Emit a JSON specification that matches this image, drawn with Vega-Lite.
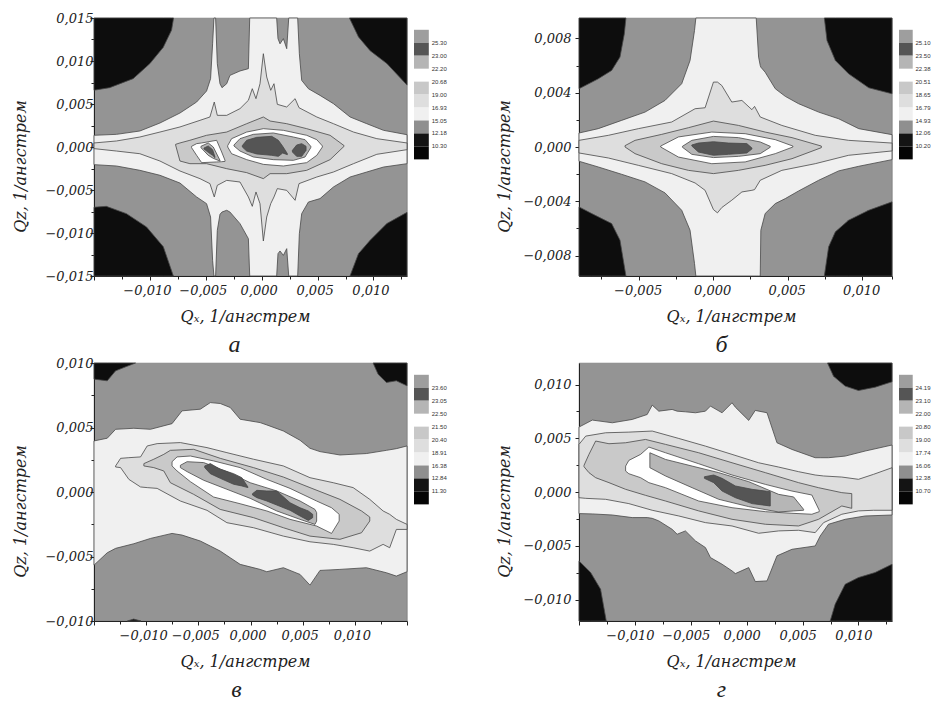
{"$schema":"https://vega.github.io/schema/vega-lite/v6.json","background":"white","padding":{"left":11,"top":11,"right":0,"bottom":6},
"config":{"view":{"fill":"#949494","stroke":"#777777","strokeWidth":0.7},"axis":{"labelFont":"DejaVu Serif","titleFont":"DejaVu Serif","labelFontStyle":"italic","titleFontStyle":"italic","labelFontWeight":"normal","titleFontWeight":"normal","labelFontSize":13,"titleFontSize":16,"labelColor":"#222222","titleColor":"#222222","domainColor":"#222222","tickColor":"#222222","grid":false,"labelOverlap":false,"labelFlush":false,"labelBound":false,"labelPadding":4,"titleBaseline":"middle"},"title":{"font":"Liberation Serif","fontStyle":"italic","fontWeight":"normal","fontSize":24,"color":"#222222"},"concat":{"spacing":7}},
"datasets":{
"legendBlocks":[{"slot":0,"end":1,"tone":"t1"},{"slot":1,"end":2,"tone":"t2"},{"slot":2,"end":3,"tone":"t3"},{"slot":4,"end":5,"tone":"t4"},{"slot":5,"end":6,"tone":"t5"},{"slot":6,"end":7,"tone":"t6"},{"slot":7,"end":8,"tone":"t7"},{"slot":8,"end":9,"tone":"t8"},{"slot":9,"end":10,"tone":"t9"}],
"a":[
{"r":"a1","z":1,"x":-0.015,"hi":0.015,"lo":0.0066},{"r":"a1","z":1,"x":-0.0136,"hi":0.015,"lo":0.0069},{"r":"a1","z":1,"x":-0.0115,"hi":0.015,"lo":0.00795},{"r":"a1","z":1,"x":-0.01,"hi":0.015,"lo":0.0097},{"r":"a1","z":1,"x":-0.0088,"hi":0.015,"lo":0.0116},{"r":"a1","z":1,"x":-0.00806,"hi":0.015,"lo":0.0136},{"r":"a1","z":1,"x":-0.00788,"hi":0.015,"lo":0.015},
{"r":"a2","z":1,"x":0.00785,"hi":0.015,"lo":0.015},{"r":"a2","z":1,"x":0.00866,"hi":0.015,"lo":0.0128},{"r":"a2","z":1,"x":0.0097,"hi":0.015,"lo":0.0112},{"r":"a2","z":1,"x":0.0112,"hi":0.015,"lo":0.0097},{"r":"a2","z":1,"x":0.013,"hi":0.015,"lo":0.0072},
{"r":"a3","z":1,"x":-0.015,"hi":-0.007,"lo":-0.015},{"r":"a3","z":1,"x":-0.0139,"hi":-0.0069,"lo":-0.015},{"r":"a3","z":1,"x":-0.0121,"hi":-0.00775,"lo":-0.015},{"r":"a3","z":1,"x":-0.0103,"hi":-0.0093,"lo":-0.015},{"r":"a3","z":1,"x":-0.0088,"hi":-0.0116,"lo":-0.015},{"r":"a3","z":1,"x":-0.0079,"hi":-0.015,"lo":-0.015},
{"r":"a4","z":1,"x":0.0079,"hi":-0.015,"lo":-0.015},{"r":"a4","z":1,"x":0.00866,"hi":-0.0124,"lo":-0.015},{"r":"a4","z":1,"x":0.0097,"hi":-0.01085,"lo":-0.015},{"r":"a4","z":1,"x":0.0112,"hi":-0.0089,"lo":-0.015},{"r":"a4","z":1,"x":0.013,"hi":-0.0076,"lo":-0.015},
{"r":"a5","z":2,"x":-0.015,"hi":0.00136,"lo":-0.00205},{"r":"a5","z":2,"x":-0.01299,"hi":0.00147,"lo":-0.00221},{"r":"a5","z":2,"x":-0.0109,"hi":0.00186,"lo":-0.00271},{"r":"a5","z":2,"x":-0.0091,"hi":0.00279,"lo":-0.00329},{"r":"a5","z":2,"x":-0.00731,"hi":0.00395,"lo":-0.00419},{"r":"a5","z":2,"x":-0.00582,"hi":0.00523,"lo":-0.00581},{"r":"a5","z":2,"x":-0.00493,"hi":0.00651,"lo":-0.00659},{"r":"a5","z":2,"x":-0.00457,"hi":0.00795,"lo":-0.00814},{"r":"a5","z":2,"x":-0.00439,"hi":0.012,"lo":-0.01318},{"r":"a5","z":2,"x":-0.00427,"hi":0.015,"lo":-0.015},{"r":"a5","z":2,"x":-0.00412,"hi":0.015,"lo":-0.015},{"r":"a5","z":2,"x":-0.00397,"hi":0.00969,"lo":-0.00969},{"r":"a5","z":2,"x":-0.00373,"hi":0.00736,"lo":-0.00783},{"r":"a5","z":2,"x":-0.00355,"hi":0.0069,"lo":-0.00756},{"r":"a5","z":2,"x":-0.00313,"hi":0.00736,"lo":-0.00736},{"r":"a5","z":2,"x":-0.00284,"hi":0.00833,"lo":-0.00756},{"r":"a5","z":2,"x":-0.00194,"hi":0.00884,"lo":-0.00891},{"r":"a5","z":2,"x":-0.00119,"hi":0.00911,"lo":-0.01066},{"r":"a5","z":2,"x":-0.00107,"hi":0.015,"lo":-0.015},{"r":"a5","z":2,"x":0.00134,"hi":0.015,"lo":-0.015},{"r":"a5","z":2,"x":0.00146,"hi":0.0126,"lo":-0.0124},{"r":"a5","z":2,"x":0.00164,"hi":0.012,"lo":-0.01209},{"r":"a5","z":2,"x":0.00194,"hi":0.0126,"lo":-0.0126},{"r":"a5","z":2,"x":0.00224,"hi":0.01143,"lo":-0.01182},{"r":"a5","z":2,"x":0.00242,"hi":0.015,"lo":-0.015},{"r":"a5","z":2,"x":0.00322,"hi":0.015,"lo":-0.015},{"r":"a5","z":2,"x":0.00337,"hi":0.01085,"lo":-0.01008},{"r":"a5","z":2,"x":0.00358,"hi":0.00775,"lo":-0.00775},{"r":"a5","z":2,"x":0.00418,"hi":0.00678,"lo":-0.0064},{"r":"a5","z":2,"x":0.00522,"hi":0.006,"lo":-0.006},{"r":"a5","z":2,"x":0.00642,"hi":0.00504,"lo":-0.00465},{"r":"a5","z":2,"x":0.00791,"hi":0.00349,"lo":-0.00349},{"r":"a5","z":2,"x":0.0094,"hi":0.00271,"lo":-0.00291},{"r":"a5","z":2,"x":0.0109,"hi":0.00194,"lo":-0.00233},{"r":"a5","z":2,"x":0.013,"hi":0.00143,"lo":-0.00194},
{"r":"a6","z":3,"x":-0.015,"hi":0.00047,"lo":-0.00019},{"r":"a6","z":3,"x":-0.01299,"hi":0.0007,"lo":-0.00047},{"r":"a6","z":3,"x":-0.0109,"hi":0.00116,"lo":-0.00078},{"r":"a6","z":3,"x":-0.0091,"hi":0.00174,"lo":-0.00163},{"r":"a6","z":3,"x":-0.00731,"hi":0.00233,"lo":-0.00279},{"r":"a6","z":3,"x":-0.00552,"hi":0.0031,"lo":-0.00368},{"r":"a6","z":3,"x":-0.00463,"hi":0.00349,"lo":-0.00426},{"r":"a6","z":3,"x":-0.00424,"hi":0.00523,"lo":-0.00581},{"r":"a6","z":3,"x":-0.00397,"hi":0.00368,"lo":-0.00446},{"r":"a6","z":3,"x":-0.00313,"hi":0.00368,"lo":-0.00388},{"r":"a6","z":3,"x":-0.00194,"hi":0.00446,"lo":-0.00407},{"r":"a6","z":3,"x":-0.00119,"hi":0.00543,"lo":-0.00581},{"r":"a6","z":3,"x":-0.00084,"hi":0.00678,"lo":-0.0069},{"r":"a6","z":3,"x":-0.00051,"hi":0.00562,"lo":-0.00523},{"r":"a6","z":3,"x":-0.00015,"hi":0.00736,"lo":-0.00659},{"r":"a6","z":3,"x":0.00015,"hi":0.01085,"lo":-0.01093},{"r":"a6","z":3,"x":0.00045,"hi":0.00814,"lo":-0.00814},{"r":"a6","z":3,"x":0.00081,"hi":0.00659,"lo":-0.00659},{"r":"a6","z":3,"x":0.0011,"hi":0.00736,"lo":-0.00581},{"r":"a6","z":3,"x":0.0014,"hi":0.00496,"lo":-0.00484},{"r":"a6","z":3,"x":0.00224,"hi":0.00465,"lo":-0.00504},{"r":"a6","z":3,"x":0.00299,"hi":0.00562,"lo":-0.0062},{"r":"a6","z":3,"x":0.00334,"hi":0.00457,"lo":-0.00426},{"r":"a6","z":3,"x":0.00493,"hi":0.00349,"lo":-0.00349},{"r":"a6","z":3,"x":0.00642,"hi":0.00271,"lo":-0.00291},{"r":"a6","z":3,"x":0.00821,"hi":0.00174,"lo":-0.00194},{"r":"a6","z":3,"x":0.0103,"hi":0.00097,"lo":-0.00085},{"r":"a6","z":3,"x":0.013,"hi":0.00047,"lo":-0.00031},
{"r":"a7","z":4,"x":-0.0077,"hi":0.00031,"lo":0.00023},{"r":"a7","z":4,"x":-0.00731,"hi":0.00047,"lo":-0.00163},{"r":"a7","z":4,"x":-0.00642,"hi":0.00078,"lo":-0.00194},{"r":"a7","z":4,"x":-0.00493,"hi":0.00136,"lo":-0.00194},{"r":"a7","z":4,"x":-0.00313,"hi":0.00174,"lo":-0.00252},{"r":"a7","z":4,"x":-0.00134,"hi":0.00271,"lo":-0.00298},{"r":"a7","z":4,"x":0.00015,"hi":0.00349,"lo":-0.00368},{"r":"a7","z":4,"x":0.00075,"hi":0.00302,"lo":-0.0031},{"r":"a7","z":4,"x":0.00224,"hi":0.00271,"lo":-0.0031},{"r":"a7","z":4,"x":0.00403,"hi":0.00213,"lo":-0.00271},{"r":"a7","z":4,"x":0.00612,"hi":0.00136,"lo":-0.00147},{"r":"a7","z":4,"x":0.00737,"hi":0.00016,"lo":0.00008},
{"r":"a8","z":5,"x":-0.00304,"hi":0.00016,"lo":0},{"r":"a8","z":5,"x":-0.00269,"hi":0.00097,"lo":-0.00078},{"r":"a8","z":5,"x":-0.00134,"hi":0.00174,"lo":-0.00147},{"r":"a8","z":5,"x":0.00015,"hi":0.00213,"lo":-0.00202},{"r":"a8","z":5,"x":0.00194,"hi":0.00194,"lo":-0.00221},{"r":"a8","z":5,"x":0.00403,"hi":0.00136,"lo":-0.00182},{"r":"a8","z":5,"x":0.00493,"hi":0.00085,"lo":-0.00097},{"r":"a8","z":5,"x":0.00543,"hi":0.00012,"lo":0},
{"r":"a9","z":6,"x":-0.00248,"hi":0.00023,"lo":0.00012},{"r":"a9","z":6,"x":-0.00194,"hi":0.00097,"lo":-0.00047},{"r":"a9","z":6,"x":-0.00075,"hi":0.00147,"lo":-0.00116},{"r":"a9","z":6,"x":0.00104,"hi":0.00163,"lo":-0.00147},{"r":"a9","z":6,"x":0.00284,"hi":0.00116,"lo":-0.00155},{"r":"a9","z":6,"x":0.00388,"hi":0.00085,"lo":-0.00116},{"r":"a9","z":6,"x":0.00439,"hi":0.00008,"lo":-0.00008},
{"r":"a10","z":7,"x":-0.00173,"hi":0.00016,"lo":0},{"r":"a10","z":7,"x":-0.00134,"hi":0.00078,"lo":-0.00047},{"r":"a10","z":7,"x":-0.00045,"hi":0.00112,"lo":-0.00081},{"r":"a10","z":7,"x":0.0009,"hi":0.00124,"lo":-0.00097},{"r":"a10","z":7,"x":0.00149,"hi":0.00078,"lo":-0.00109},{"r":"a10","z":7,"x":0.00188,"hi":0.00008,"lo":-0.0007},{"r":"a10","z":7,"x":0.0023,"hi":-0.00078,"lo":-0.00089},
{"r":"a11","z":7,"x":0.00275,"hi":-0.00039,"lo":-0.00058},{"r":"a11","z":7,"x":0.00313,"hi":0.00023,"lo":-0.00109},{"r":"a11","z":7,"x":0.00358,"hi":0.00039,"lo":-0.00109},{"r":"a11","z":7,"x":0.00397,"hi":0.00008,"lo":-0.00039},
{"r":"a12","z":5,"x":-0.00627,"hi":0.00008,"lo":-0.00008},{"r":"a12","z":5,"x":-0.00582,"hi":0.00039,"lo":-0.00097},{"r":"a12","z":5,"x":-0.00537,"hi":0.00047,"lo":-0.00182},{"r":"a12","z":5,"x":-0.00403,"hi":0.00078,"lo":-0.00174},{"r":"a12","z":5,"x":-0.00358,"hi":-0.00058,"lo":-0.00171},{"r":"a12","z":5,"x":-0.00328,"hi":-0.00155,"lo":-0.00167},
{"r":"a13","z":6,"x":-0.00543,"hi":0.00008,"lo":-0.00008},{"r":"a13","z":6,"x":-0.00478,"hi":0.00047,"lo":-0.00097},{"r":"a13","z":6,"x":-0.00433,"hi":0,"lo":-0.00132},{"r":"a13","z":6,"x":-0.00373,"hi":-0.00155,"lo":-0.00163},
{"r":"a14","z":7,"x":-0.00516,"hi":-0.00012,"lo":-0.00023},{"r":"a14","z":7,"x":-0.00478,"hi":0.00012,"lo":-0.00062},{"r":"a14","z":7,"x":-0.00439,"hi":-0.00031,"lo":-0.00097},{"r":"a14","z":7,"x":-0.00418,"hi":-0.00116,"lo":-0.00124}
],
"b":[
{"r":"b1","z":1,"x":-0.009,"hi":0.0095,"lo":0.00429},{"r":"b1","z":1,"x":-0.00771,"hi":0.0095,"lo":0.00502},{"r":"b1","z":1,"x":-0.00681,"hi":0.0095,"lo":0.00564},{"r":"b1","z":1,"x":-0.00625,"hi":0.0095,"lo":0.00662},{"r":"b1","z":1,"x":-0.00596,"hi":0.0095,"lo":0.00833},{"r":"b1","z":1,"x":-0.00585,"hi":0.0095,"lo":0.0095},
{"r":"b2","z":1,"x":0.00746,"hi":0.0095,"lo":0.0095},{"r":"b2","z":1,"x":0.00764,"hi":0.0095,"lo":0.00784},{"r":"b2","z":1,"x":0.0082,"hi":0.0095,"lo":0.00637},{"r":"b2","z":1,"x":0.00909,"hi":0.0095,"lo":0.00539},{"r":"b2","z":1,"x":0.01044,"hi":0.0095,"lo":0.00436},{"r":"b2","z":1,"x":0.012,"hi":0.0095,"lo":0.00392},
{"r":"b3","z":1,"x":-0.009,"hi":-0.00441,"lo":-0.0095},{"r":"b3","z":1,"x":-0.00815,"hi":-0.0049,"lo":-0.0095},{"r":"b3","z":1,"x":-0.00681,"hi":-0.00564,"lo":-0.0095},{"r":"b3","z":1,"x":-0.00625,"hi":-0.00686,"lo":-0.0095},{"r":"b3","z":1,"x":-0.00585,"hi":-0.0095,"lo":-0.0095},
{"r":"b4","z":1,"x":0.00746,"hi":-0.0095,"lo":-0.0095},{"r":"b4","z":1,"x":0.00775,"hi":-0.00735,"lo":-0.0095},{"r":"b4","z":1,"x":0.0082,"hi":-0.00625,"lo":-0.0095},{"r":"b4","z":1,"x":0.00909,"hi":-0.00539,"lo":-0.0095},{"r":"b4","z":1,"x":0.01044,"hi":-0.00466,"lo":-0.0095},{"r":"b4","z":1,"x":0.012,"hi":-0.00404,"lo":-0.0095},
{"r":"b5","z":2,"x":-0.009,"hi":0.00103,"lo":-0.00105},{"r":"b5","z":2,"x":-0.00771,"hi":0.00135,"lo":-0.00147},{"r":"b5","z":2,"x":-0.00614,"hi":0.00196,"lo":-0.00201},{"r":"b5","z":2,"x":-0.00457,"hi":0.00257,"lo":-0.00257},{"r":"b5","z":2,"x":-0.00323,"hi":0.00343,"lo":-0.00338},{"r":"b5","z":2,"x":-0.00211,"hi":0.00466,"lo":-0.00466},{"r":"b5","z":2,"x":-0.00155,"hi":0.00637,"lo":-0.00613},{"r":"b5","z":2,"x":-0.00125,"hi":0.00858,"lo":-0.00858},{"r":"b5","z":2,"x":-0.00116,"hi":0.0095,"lo":-0.0095},{"r":"b5","z":2,"x":0.00289,"hi":0.0095,"lo":-0.0095},{"r":"b5","z":2,"x":0.00305,"hi":0.00662,"lo":-0.0095},{"r":"b5","z":2,"x":0.00316,"hi":0.006,"lo":-0.0095},{"r":"b5","z":2,"x":0.0032,"hi":0.00588,"lo":-0.00613},{"r":"b5","z":2,"x":0.00349,"hi":0.00551,"lo":-0.0049},{"r":"b5","z":2,"x":0.00417,"hi":0.00429,"lo":-0.00417},{"r":"b5","z":2,"x":0.00484,"hi":0.00373,"lo":-0.0038},{"r":"b5","z":2,"x":0.00573,"hi":0.00319,"lo":-0.00324},{"r":"b5","z":2,"x":0.00708,"hi":0.00257,"lo":-0.00245},{"r":"b5","z":2,"x":0.00842,"hi":0.00208,"lo":-0.00176},{"r":"b5","z":2,"x":0.00977,"hi":0.00135,"lo":-0.00142},{"r":"b5","z":2,"x":0.012,"hi":0.00091,"lo":-0.00093},
{"r":"b6","z":3,"x":-0.009,"hi":0.00049,"lo":-0.00044},{"r":"b6","z":3,"x":-0.00703,"hi":0.00086,"lo":-0.00081},{"r":"b6","z":3,"x":-0.00502,"hi":0.00135,"lo":-0.00135},{"r":"b6","z":3,"x":-0.00278,"hi":0.00184,"lo":-0.00196},{"r":"b6","z":3,"x":-0.00121,"hi":0.00282,"lo":-0.00265},{"r":"b6","z":3,"x":-0.00054,"hi":0.00289,"lo":-0.00319},{"r":"b6","z":3,"x":0.00002,"hi":0.00478,"lo":-0.00461},{"r":"b6","z":3,"x":0.00029,"hi":0.00478,"lo":-0.00485},{"r":"b6","z":3,"x":0.00058,"hi":0.00453,"lo":-0.00446},{"r":"b6","z":3,"x":0.00125,"hi":0.00331,"lo":-0.00392},{"r":"b6","z":3,"x":0.00193,"hi":0.00343,"lo":-0.00331},{"r":"b6","z":3,"x":0.0026,"hi":0.00275,"lo":-0.00319},{"r":"b6","z":3,"x":0.00278,"hi":0.00299,"lo":-0.00314},{"r":"b6","z":3,"x":0.00316,"hi":0.00221,"lo":-0.00245},{"r":"b6","z":3,"x":0.00461,"hi":0.00159,"lo":-0.00172},{"r":"b6","z":3,"x":0.00685,"hi":0.00086,"lo":-0.00123},{"r":"b6","z":3,"x":0.00909,"hi":0.00049,"lo":-0.00061},{"r":"b6","z":3,"x":0.012,"hi":0.00029,"lo":-0.00029},
{"r":"b7","z":4,"x":-0.00591,"hi":0.0001,"lo":0},{"r":"b7","z":4,"x":-0.00524,"hi":0.00049,"lo":-0.00049},{"r":"b7","z":4,"x":-0.00345,"hi":0.00093,"lo":-0.00123},{"r":"b7","z":4,"x":-0.00166,"hi":0.00142,"lo":-0.00172},{"r":"b7","z":4,"x":0.00002,"hi":0.00191,"lo":-0.00196},{"r":"b7","z":4,"x":0.0017,"hi":0.00159,"lo":-0.00172},{"r":"b7","z":4,"x":0.00349,"hi":0.0011,"lo":-0.00135},{"r":"b7","z":4,"x":0.00529,"hi":0.00069,"lo":-0.00086},{"r":"b7","z":4,"x":0.00726,"hi":0.00007,"lo":-0.00005},
{"r":"b8","z":5,"x":-0.00352,"hi":0.00007,"lo":0},{"r":"b8","z":5,"x":-0.00233,"hi":0.00074,"lo":-0.00074},{"r":"b8","z":5,"x":-0.00009,"hi":0.0011,"lo":-0.00123},{"r":"b8","z":5,"x":0.00215,"hi":0.00098,"lo":-0.0011},{"r":"b8","z":5,"x":0.00417,"hi":0.00054,"lo":-0.00049},{"r":"b8","z":5,"x":0.00535,"hi":0.00007,"lo":0},
{"r":"b9","z":6,"x":-0.00206,"hi":0.00005,"lo":-0.00002},{"r":"b9","z":6,"x":-0.00143,"hi":0.00049,"lo":-0.00054},{"r":"b9","z":6,"x":0.00002,"hi":0.00078,"lo":-0.00078},{"r":"b9","z":6,"x":0.0017,"hi":0.00069,"lo":-0.00069},{"r":"b9","z":6,"x":0.00316,"hi":0.00037,"lo":-0.00049},{"r":"b9","z":6,"x":0.00383,"hi":0.00005,"lo":-0.00002},
{"r":"b10","z":7,"x":-0.00143,"hi":0.00015,"lo":0.00007},{"r":"b10","z":7,"x":-0.00099,"hi":0.00029,"lo":-0.00037},{"r":"b10","z":7,"x":0.00002,"hi":0.00039,"lo":-0.00061},{"r":"b10","z":7,"x":0.00103,"hi":0.00029,"lo":-0.00054},{"r":"b10","z":7,"x":0.00226,"hi":0.00025,"lo":-0.00044},{"r":"b10","z":7,"x":0.0026,"hi":-0.00007,"lo":-0.00015}
],
"c":[
{"r":"c1","z":1,"x":-0.015,"hi":0.01,"lo":0.00875},{"r":"c1","z":1,"x":-0.01373,"hi":0.01,"lo":0.00862},{"r":"c1","z":1,"x":-0.01293,"hi":0.01,"lo":0.00939},{"r":"c1","z":1,"x":-0.01213,"hi":0.01,"lo":0.00965},{"r":"c1","z":1,"x":-0.01102,"hi":0.01,"lo":0.01},
{"r":"c2","z":1,"x":0.01175,"hi":0.01,"lo":0.01},{"r":"c2","z":1,"x":0.01223,"hi":0.01,"lo":0.00913},{"r":"c2","z":1,"x":0.01303,"hi":0.01,"lo":0.00849},{"r":"c2","z":1,"x":0.01398,"hi":0.01,"lo":0.00862},{"r":"c2","z":1,"x":0.015,"hi":0.01,"lo":0.00823},
{"r":"c3","z":1,"x":-0.0118,"hi":-0.01,"lo":-0.01},{"r":"c3","z":1,"x":-0.0112,"hi":-0.00985,"lo":-0.01},{"r":"c3","z":1,"x":-0.0105,"hi":-0.01,"lo":-0.01},
{"r":"c4","z":2,"x":-0.015,"hi":0.00396,"lo":-0.00567},{"r":"c4","z":2,"x":-0.01373,"hi":0.00417,"lo":-0.00471},{"r":"c4","z":2,"x":-0.01293,"hi":0.00486,"lo":-0.00437},{"r":"c4","z":2,"x":-0.01118,"hi":0.00494,"lo":-0.00401},{"r":"c4","z":2,"x":-0.00959,"hi":0.00486,"lo":-0.0036},{"r":"c4","z":2,"x":-0.00752,"hi":0.0053,"lo":-0.00321},{"r":"c4","z":2,"x":-0.00656,"hi":0.00629,"lo":-0.00334},{"r":"c4","z":2,"x":-0.00481,"hi":0.00642,"lo":-0.0038},{"r":"c4","z":2,"x":-0.00385,"hi":0.00693,"lo":-0.00419},{"r":"c4","z":2,"x":-0.0029,"hi":0.00686,"lo":-0.00458},{"r":"c4","z":2,"x":-0.00194,"hi":0.00655,"lo":-0.0051},{"r":"c4","z":2,"x":-0.00099,"hi":0.00564,"lo":-0.00561},{"r":"c4","z":2,"x":0.00092,"hi":0.00538,"lo":-0.006},{"r":"c4","z":2,"x":0.00156,"hi":0.0052,"lo":-0.00618},{"r":"c4","z":2,"x":0.00315,"hi":0.00473,"lo":-0.00587},{"r":"c4","z":2,"x":0.00475,"hi":0.00401,"lo":-0.00639},{"r":"c4","z":2,"x":0.0057,"hi":0.00339,"lo":-0.00722},{"r":"c4","z":2,"x":0.00666,"hi":0.00313,"lo":-0.00608},{"r":"c4","z":2,"x":0.00857,"hi":0.00287,"lo":-0.006},{"r":"c4","z":2,"x":0.01111,"hi":0.00298,"lo":-0.00587},{"r":"c4","z":2,"x":0.01303,"hi":0.00323,"lo":-0.00626},{"r":"c4","z":2,"x":0.01398,"hi":0.00336,"lo":-0.00652},{"r":"c4","z":2,"x":0.015,"hi":0.00357,"lo":-0.00618},
{"r":"c5","z":3,"x":-0.01293,"hi":0.00202,"lo":0.00194},{"r":"c5","z":3,"x":-0.01245,"hi":0.00261,"lo":0.00189},{"r":"c5","z":3,"x":-0.01166,"hi":0.00266,"lo":0.00098},{"r":"c5","z":3,"x":-0.01054,"hi":0.00272,"lo":0.00039},{"r":"c5","z":3,"x":-0.0099,"hi":0.00357,"lo":0.00034},{"r":"c5","z":3,"x":-0.00895,"hi":0.00375,"lo":0.00028},{"r":"c5","z":3,"x":-0.00672,"hi":0.00383,"lo":-0.0007},{"r":"c5","z":3,"x":-0.00417,"hi":0.00344,"lo":-0.00142},{"r":"c5","z":3,"x":-0.00226,"hi":0.00305,"lo":-0.00238},{"r":"c5","z":3,"x":0.00029,"hi":0.00254,"lo":-0.00277},{"r":"c5","z":3,"x":0.00315,"hi":0.00202,"lo":-0.00342},{"r":"c5","z":3,"x":0.0057,"hi":0.00111,"lo":-0.00386},{"r":"c5","z":3,"x":0.00793,"hi":0.00072,"lo":-0.00406},{"r":"c5","z":3,"x":0.00984,"hi":0.00034,"lo":-0.00432},{"r":"c5","z":3,"x":0.01143,"hi":-0.00057,"lo":-0.00458},{"r":"c5","z":3,"x":0.01271,"hi":-0.00147,"lo":-0.00406},{"r":"c5","z":3,"x":0.01334,"hi":-0.00173,"lo":-0.00432},{"r":"c5","z":3,"x":0.01398,"hi":-0.00212,"lo":-0.0029},{"r":"c5","z":3,"x":0.015,"hi":-0.00251,"lo":-0.0029},
{"r":"c6","z":4,"x":-0.01022,"hi":0.0022,"lo":0.00202},{"r":"c6","z":4,"x":-0.00927,"hi":0.00254,"lo":0.00189},{"r":"c6","z":4,"x":-0.00831,"hi":0.00292,"lo":0.00163},{"r":"c6","z":4,"x":-0.00768,"hi":0.00323,"lo":0.00072},{"r":"c6","z":4,"x":-0.00545,"hi":0.00331,"lo":-0.00018},{"r":"c6","z":4,"x":-0.0029,"hi":0.00261,"lo":-0.00135},{"r":"c6","z":4,"x":0.00029,"hi":0.00189,"lo":-0.00199},{"r":"c6","z":4,"x":0.00315,"hi":0.00116,"lo":-0.00277},{"r":"c6","z":4,"x":0.0057,"hi":0.00034,"lo":-0.00342},{"r":"c6","z":4,"x":0.00857,"hi":-0.00057,"lo":-0.00367},{"r":"c6","z":4,"x":0.01064,"hi":-0.00147,"lo":-0.00316},{"r":"c6","z":4,"x":0.01143,"hi":-0.00194,"lo":-0.00225},
{"r":"c7","z":5,"x":-0.00752,"hi":0.00235,"lo":0.00202},{"r":"c7","z":5,"x":-0.00704,"hi":0.00272,"lo":0.00163},{"r":"c7","z":5,"x":-0.00576,"hi":0.00279,"lo":0.0008},{"r":"c7","z":5,"x":-0.00354,"hi":0.00241,"lo":-0.00039},{"r":"c7","z":5,"x":-0.00099,"hi":0.00189,"lo":-0.00091},{"r":"c7","z":5,"x":0.00156,"hi":0.00098,"lo":-0.00147},{"r":"c7","z":5,"x":0.00379,"hi":0.00028,"lo":-0.00212},{"r":"c7","z":5,"x":0.00634,"hi":-0.0007,"lo":-0.00264},{"r":"c7","z":5,"x":0.00777,"hi":-0.00122,"lo":-0.00321},{"r":"c7","z":5,"x":0.0085,"hi":-0.00173,"lo":-0.00225},
{"r":"c8","z":6,"x":-0.00672,"hi":0.00207,"lo":0.00189},{"r":"c8","z":6,"x":-0.00608,"hi":0.00235,"lo":0.00158},{"r":"c8","z":6,"x":-0.00449,"hi":0.00228,"lo":0.00091},{"r":"c8","z":6,"x":-0.00226,"hi":0.00158,"lo":0.00021},{"r":"c8","z":6,"x":-0.00003,"hi":0.00072,"lo":-0.00049},{"r":"c8","z":6,"x":0.00252,"hi":0.00008,"lo":-0.00147},{"r":"c8","z":6,"x":0.00475,"hi":-0.0007,"lo":-0.00212},{"r":"c8","z":6,"x":0.00618,"hi":-0.00135,"lo":-0.00251},{"r":"c8","z":6,"x":0.00634,"hi":-0.0016,"lo":-0.00225},
{"r":"c9","z":7,"x":-0.00439,"hi":0.00202,"lo":0.00189},{"r":"c9","z":7,"x":-0.00385,"hi":0.0022,"lo":0.00142},{"r":"c9","z":7,"x":-0.0029,"hi":0.00176,"lo":0.00106},{"r":"c9","z":7,"x":-0.00162,"hi":0.00142,"lo":0.0006},{"r":"c9","z":7,"x":-0.00083,"hi":0.00111,"lo":0.00047},{"r":"c9","z":7,"x":-0.00025,"hi":0.00039,"lo":0.00034},
{"r":"c10","z":7,"x":0.00019,"hi":-0.00013,"lo":-0.00023},{"r":"c10","z":7,"x":0.00061,"hi":0.00013,"lo":-0.00044},{"r":"c10","z":7,"x":0.00156,"hi":0.00008,"lo":-0.0007},{"r":"c10","z":7,"x":0.00252,"hi":0.00008,"lo":-0.00101},{"r":"c10","z":7,"x":0.00379,"hi":-0.00083,"lo":-0.00142},{"r":"c10","z":7,"x":0.00475,"hi":-0.00122,"lo":-0.00186},{"r":"c10","z":7,"x":0.00554,"hi":-0.00147,"lo":-0.0022},{"r":"c10","z":7,"x":0.00596,"hi":-0.00173,"lo":-0.00199}
],
"d":[
{"r":"d1","z":1,"x":0.00723,"hi":0.012,"lo":0.012},{"r":"d1","z":1,"x":0.00777,"hi":0.012,"lo":0.01077},{"r":"d1","z":1,"x":0.00881,"hi":0.012,"lo":0.00985},{"r":"d1","z":1,"x":0.01,"hi":0.012,"lo":0.00944},{"r":"d1","z":1,"x":0.01149,"hi":0.012,"lo":0.00975},{"r":"d1","z":1,"x":0.013,"hi":0.012,"lo":0.01025},
{"r":"d2","z":1,"x":-0.015,"hi":-0.00641,"lo":-0.012},{"r":"d2","z":1,"x":-0.01396,"hi":-0.00749,"lo":-0.012},{"r":"d2","z":1,"x":-0.01307,"hi":-0.00904,"lo":-0.012},{"r":"d2","z":1,"x":-0.01256,"hi":-0.012,"lo":-0.012},
{"r":"d3","z":1,"x":0.00747,"hi":-0.012,"lo":-0.012},{"r":"d3","z":1,"x":0.00792,"hi":-0.01043,"lo":-0.012},{"r":"d3","z":1,"x":0.00881,"hi":-0.00858,"lo":-0.012},{"r":"d3","z":1,"x":0.01,"hi":-0.00796,"lo":-0.012},{"r":"d3","z":1,"x":0.01149,"hi":-0.00749,"lo":-0.012},{"r":"d3","z":1,"x":0.013,"hi":-0.00672,"lo":-0.012},
{"r":"d4","z":2,"x":-0.015,"hi":0.00604,"lo":-0.00201},{"r":"d4","z":2,"x":-0.01381,"hi":0.00669,"lo":-0.00204},{"r":"d4","z":2,"x":-0.01202,"hi":0.00644,"lo":-0.00214},{"r":"d4","z":2,"x":-0.01024,"hi":0.00675,"lo":-0.00238},{"r":"d4","z":2,"x":-0.0089,"hi":0.00721,"lo":-0.00238},{"r":"d4","z":2,"x":-0.00845,"hi":0.00808,"lo":-0.00245},{"r":"d4","z":2,"x":-0.00786,"hi":0.00752,"lo":-0.00269},{"r":"d4","z":2,"x":-0.00667,"hi":0.00768,"lo":-0.00347},{"r":"d4","z":2,"x":-0.00622,"hi":0.00752,"lo":-0.00393},{"r":"d4","z":2,"x":-0.00548,"hi":0.00746,"lo":-0.00362},{"r":"d4","z":2,"x":-0.00458,"hi":0.00737,"lo":-0.00455},{"r":"d4","z":2,"x":-0.00369,"hi":0.00752,"lo":-0.00517},{"r":"d4","z":2,"x":-0.00324,"hi":0.00799,"lo":-0.0061},{"r":"d4","z":2,"x":-0.0022,"hi":0.00737,"lo":-0.00672},{"r":"d4","z":2,"x":-0.00131,"hi":0.0083,"lo":-0.00734},{"r":"d4","z":2,"x":-0.00101,"hi":0.00789,"lo":-0.00759},{"r":"d4","z":2,"x":0.00018,"hi":0.00666,"lo":-0.00703},{"r":"d4","z":2,"x":0.00077,"hi":0.00759,"lo":-0.00833},{"r":"d4","z":2,"x":0.00182,"hi":0.00737,"lo":-0.00827},{"r":"d4","z":2,"x":0.00271,"hi":0.00458,"lo":-0.00594},{"r":"d4","z":2,"x":0.00405,"hi":0.00396,"lo":-0.00533},{"r":"d4","z":2,"x":0.00613,"hi":0.00319,"lo":-0.00502},{"r":"d4","z":2,"x":0.00658,"hi":0.00319,"lo":-0.00409},{"r":"d4","z":2,"x":0.00732,"hi":0.00319,"lo":-0.003},{"r":"d4","z":2,"x":0.00881,"hi":0.00334,"lo":-0.00254},{"r":"d4","z":2,"x":0.0106,"hi":0.00381,"lo":-0.00223},{"r":"d4","z":2,"x":0.013,"hi":0.00437,"lo":-0.00214},
{"r":"d5","z":3,"x":-0.015,"hi":0.00443,"lo":-0.00053},{"r":"d5","z":3,"x":-0.0144,"hi":0.0052,"lo":-0.00059},{"r":"d5","z":3,"x":-0.01262,"hi":0.00551,"lo":-0.00068},{"r":"d5","z":3,"x":-0.01054,"hi":0.00557,"lo":-0.00108},{"r":"d5","z":3,"x":-0.00845,"hi":0.00567,"lo":-0.0017},{"r":"d5","z":3,"x":-0.00607,"hi":0.00498,"lo":-0.00223},{"r":"d5","z":3,"x":-0.00369,"hi":0.00427,"lo":-0.00285},{"r":"d5","z":3,"x":-0.00131,"hi":0.0035,"lo":-0.00316},{"r":"d5","z":3,"x":0.00107,"hi":0.00272,"lo":-0.00384},{"r":"d5","z":3,"x":0.00286,"hi":0.00232,"lo":-0.00362},{"r":"d5","z":3,"x":0.00464,"hi":0.00189,"lo":-0.00356},{"r":"d5","z":3,"x":0.00613,"hi":0.00158,"lo":-0.00378},{"r":"d5","z":3,"x":0.00688,"hi":0.00149,"lo":-0.00285},{"r":"d5","z":3,"x":0.00851,"hi":0.00139,"lo":-0.00207},{"r":"d5","z":3,"x":0.01,"hi":0.00118,"lo":-0.00176},{"r":"d5","z":3,"x":0.01134,"hi":0.00164,"lo":-0.0017},{"r":"d5","z":3,"x":0.013,"hi":0.00226,"lo":-0.0017},
{"r":"d6","z":4,"x":-0.01455,"hi":0.00248,"lo":0.00235},{"r":"d6","z":4,"x":-0.01411,"hi":0.0035,"lo":0.0018},{"r":"d6","z":4,"x":-0.01351,"hi":0.00474,"lo":0.00133},{"r":"d6","z":4,"x":-0.01232,"hi":0.00449,"lo":0.00087},{"r":"d6","z":4,"x":-0.01083,"hi":0.00458,"lo":0.00025},{"r":"d6","z":4,"x":-0.00905,"hi":0.00489,"lo":-0.00031},{"r":"d6","z":4,"x":-0.00726,"hi":0.00443,"lo":-0.00084},{"r":"d6","z":4,"x":-0.00429,"hi":0.00365,"lo":-0.00176},{"r":"d6","z":4,"x":-0.00131,"hi":0.00272,"lo":-0.00254},{"r":"d6","z":4,"x":0.00167,"hi":0.0018,"lo":-0.003},{"r":"d6","z":4,"x":0.00464,"hi":0.00087,"lo":-0.00316},{"r":"d6","z":4,"x":0.00643,"hi":0.0004,"lo":-0.00254},{"r":"d6","z":4,"x":0.00851,"hi":-0.00006,"lo":-0.0013},{"r":"d6","z":4,"x":0.0094,"hi":-0.00015,"lo":-0.00152},
{"r":"d7","z":5,"x":-0.01083,"hi":0.00241,"lo":0.00195},{"r":"d7","z":5,"x":-0.01054,"hi":0.00294,"lo":0.0017},{"r":"d7","z":5,"x":-0.00949,"hi":0.0035,"lo":0.00133},{"r":"d7","z":5,"x":-0.00875,"hi":0.00418,"lo":0.00087},{"r":"d7","z":5,"x":-0.00726,"hi":0.00365,"lo":0.0004},{"r":"d7","z":5,"x":-0.00429,"hi":0.00263,"lo":-0.00084},{"r":"d7","z":5,"x":-0.00131,"hi":0.00158,"lo":-0.00146},{"r":"d7","z":5,"x":0.00167,"hi":0.00071,"lo":-0.00183},{"r":"d7","z":5,"x":0.00405,"hi":0.00009,"lo":-0.00198},{"r":"d7","z":5,"x":0.00583,"hi":-0.00028,"lo":-0.00207},{"r":"d7","z":5,"x":0.00649,"hi":-0.0017,"lo":-0.00183},
{"r":"d8","z":6,"x":-0.00866,"hi":0.00365,"lo":0.00226},{"r":"d8","z":6,"x":-0.00726,"hi":0.00303,"lo":0.00149},{"r":"d8","z":6,"x":-0.00488,"hi":0.00241,"lo":0.0004},{"r":"d8","z":6,"x":-0.0025,"hi":0.0018,"lo":-0.00068},{"r":"d8","z":6,"x":0.00018,"hi":0.00096,"lo":-0.00136},{"r":"d8","z":6,"x":0.00286,"hi":-0.00022,"lo":-0.00186},{"r":"d8","z":6,"x":0.0042,"hi":-0.00046,"lo":-0.00176},{"r":"d8","z":6,"x":0.00509,"hi":-0.00161,"lo":-0.0017},
{"r":"d9","z":7,"x":-0.00378,"hi":0.00142,"lo":0.00127},{"r":"d9","z":7,"x":-0.00295,"hi":0.00158,"lo":0.00087},{"r":"d9","z":7,"x":-0.0022,"hi":0.00127,"lo":0.00009},{"r":"d9","z":7,"x":-0.00101,"hi":0.00056,"lo":-0.00053},{"r":"d9","z":7,"x":0.00048,"hi":0.00025,"lo":-0.00108},{"r":"d9","z":7,"x":0.00211,"hi":0.00003,"lo":-0.0013}
]},
"concat":[
{"title":{"text":"а","orient":"bottom","anchor":"middle","dx":-16,"offset":9},"width":313,"height":258,"data":{"name":"a"},"mark":{"type":"area","stroke":"#484848","strokeWidth":0.8},"encoding":{"x":{"field":"x","type":"quantitative","scale":{"domain":[-0.015,0.013],"nice":false,"zero":false},"axis":{"title":"Qₓ, 1/ангстрем","titleX":151,"titleY":40,"labelOffset":-3,"tickSize":{"condition":{"test":"abs(round(datum.value*10000)%50)<1","value":4},"value":3},"values":[-0.015,-0.0125,-0.01,-0.0075,-0.005,-0.0025,0,0.0025,0.005,0.0075,0.01,0.0125],"labelExpr":"abs(round(datum.value*10000)%50)<1 && abs(datum.value)<0.012 ? replace(replace(format(datum.value,'.3f'),'.',','),'-','−') : ''"}},"y":{"field":"hi","type":"quantitative","scale":{"domain":[-0.015,0.015],"nice":false,"zero":false},"axis":{"title":"Qᴢ, 1/ангстрем","titleX":-74,"titleY":148,"labelPadding":-3,"tickSize":{"condition":{"test":"abs(round(datum.value*10000)%50)<1","value":4},"value":3},"values":[-0.015,-0.0125,-0.01,-0.0075,-0.005,-0.0025,0,0.0025,0.005,0.0075,0.01,0.0125,0.015],"labelExpr":"abs(round(datum.value*10000)%50)<1 ? replace(replace(format(datum.value,'.3f'),'.',','),'-','−') : ''"}},"y2":{"field":"lo"},"detail":{"field":"r"},"color":{"field":"z","type":"ordinal","legend":null,"scale":{"domain":[1,2,3,4,5,6,7],"range":["#0d0d0d","#f0f0f0","#dedede","#c9c9c9","#ffffff","#b6b6b6","#555555"]}}}},
{"view":{"fill":null,"stroke":null},"width":158,"height":258,"layer":[{"data":{"name":"legendBlocks"},"mark":{"type":"rect"},"encoding":{"x":{"datum":0,"type":"quantitative","scale":{"domain":[0,158]},"axis":null},"x2":{"datum":15},"y":{"field":"slot","type":"quantitative","scale":{"domain":[-0.91,19],"reverse":true,"nice":false,"zero":false},"axis":null},"y2":{"field":"end"},"color":{"field":"tone","type":"nominal","legend":null,"scale":{"domain":["t1","t2","t3","t4","t5","t6","t7","t8","t9"],"range":["#9e9e9e","#555555","#b5b5b5","#c8c8c8","#dedede","#f0f0f0","#8f8f8f","#141414","#050505"]}}}},{"data":{"values":[{"slot":1,"label":"25.30"},{"slot":2,"label":"23.00"},{"slot":3,"label":"22.20"},{"slot":4,"label":"20.68"},{"slot":5,"label":"19.00"},{"slot":6,"label":"16.93"},{"slot":7,"label":"15.05"},{"slot":8,"label":"12.18"},{"slot":9,"label":"10.30"}]},"mark":{"type":"text","align":"left","font":"Liberation Sans","fontSize":6,"color":"#333333"},"encoding":{"x":{"datum":18,"type":"quantitative"},"y":{"field":"slot","type":"quantitative"},"text":{"field":"label"}}}]},
{"title":{"text":"б","orient":"bottom","anchor":"middle","dx":-14,"offset":9},"width":313,"height":258,"data":{"name":"b"},"mark":{"type":"area","stroke":"#484848","strokeWidth":0.8},"encoding":{"x":{"field":"x","type":"quantitative","scale":{"domain":[-0.009,0.012],"nice":false,"zero":false},"axis":{"title":"Qₓ, 1/ангстрем","titleX":152,"titleY":40,"labelOffset":-1,"tickSize":{"condition":{"test":"abs(round(datum.value*10000)%50)<1","value":4},"value":3},"values":[-0.0075,-0.005,-0.0025,0,0.0025,0.005,0.0075,0.01,0.012],"labelExpr":"abs(round(datum.value*10000)%50)<1 ? replace(replace(format(datum.value,'.3f'),'.',','),'-','−') : ''"}},"y":{"field":"hi","type":"quantitative","scale":{"domain":[-0.0095,0.0095],"nice":false,"zero":false},"axis":{"title":"Qᴢ, 1/ангстрем","titleX":-75,"titleY":148,"labelPadding":4,"tickSize":{"condition":{"test":"abs(round(datum.value*10000)%40)<1","value":4},"value":3},"values":[-0.008,-0.006,-0.004,-0.002,0,0.002,0.004,0.006,0.008],"labelExpr":"abs(round(datum.value*10000)%40)<1 ? replace(replace(format(datum.value,'.3f'),'.',','),'-','−') : ''"}},"y2":{"field":"lo"},"detail":{"field":"r"},"color":{"field":"z","type":"ordinal","legend":null,"scale":{"domain":[1,2,3,4,5,6,7],"range":["#0d0d0d","#f0f0f0","#dedede","#c9c9c9","#ffffff","#b6b6b6","#555555"]}}}},
{"view":{"fill":null,"stroke":null},"width":32,"height":258,"layer":[{"data":{"name":"legendBlocks"},"mark":{"type":"rect"},"encoding":{"x":{"datum":0,"type":"quantitative","scale":{"domain":[0,32]},"axis":null},"x2":{"datum":15},"y":{"field":"slot","type":"quantitative","scale":{"domain":[-0.91,19],"reverse":true,"nice":false,"zero":false},"axis":null},"y2":{"field":"end"},"color":{"field":"tone","type":"nominal","legend":null,"scale":{"domain":["t1","t2","t3","t4","t5","t6","t7","t8","t9"],"range":["#9e9e9e","#555555","#b5b5b5","#c8c8c8","#dedede","#f0f0f0","#8f8f8f","#141414","#050505"]}}}},{"data":{"values":[{"slot":1,"label":"25.10"},{"slot":2,"label":"23.50"},{"slot":3,"label":"22.38"},{"slot":4,"label":"20.51"},{"slot":5,"label":"18.65"},{"slot":6,"label":"16.79"},{"slot":7,"label":"14.93"},{"slot":8,"label":"12.06"},{"slot":9,"label":"10.20"}]},"mark":{"type":"text","align":"left","font":"Liberation Sans","fontSize":6,"color":"#333333"},"encoding":{"x":{"datum":18,"type":"quantitative"},"y":{"field":"slot","type":"quantitative"},"text":{"field":"label"}}}]},
{"title":{"text":"в","orient":"bottom","anchor":"middle","dx":-14,"offset":9},"width":313,"height":258,"data":{"name":"c"},"mark":{"type":"area","stroke":"#484848","strokeWidth":0.8},"encoding":{"x":{"field":"x","type":"quantitative","scale":{"domain":[-0.015,0.015],"nice":false,"zero":false},"axis":{"title":"Qₓ, 1/ангстрем","titleX":151,"titleY":40,"labelOffset":-3,"tickSize":{"condition":{"test":"abs(round(datum.value*10000)%50)<1","value":4},"value":3},"values":[-0.015,-0.0125,-0.01,-0.0075,-0.005,-0.0025,0,0.0025,0.005,0.0075,0.01,0.0125,0.015],"labelExpr":"abs(round(datum.value*10000)%50)<1 && abs(datum.value)<0.012 ? replace(replace(format(datum.value,'.3f'),'.',','),'-','−') : ''"}},"y":{"field":"hi","type":"quantitative","scale":{"domain":[-0.01,0.01],"nice":false,"zero":false},"axis":{"title":"Qᴢ, 1/ангстрем","titleX":-74,"titleY":148,"labelPadding":-3,"tickSize":{"condition":{"test":"abs(round(datum.value*10000)%50)<1","value":4},"value":3},"values":[-0.01,-0.0075,-0.005,-0.0025,0,0.0025,0.005,0.0075,0.01],"labelExpr":"abs(round(datum.value*10000)%50)<1 ? replace(replace(format(datum.value,'.3f'),'.',','),'-','−') : ''"}},"y2":{"field":"lo"},"detail":{"field":"r"},"color":{"field":"z","type":"ordinal","legend":null,"scale":{"domain":[1,2,3,4,5,6,7],"range":["#0d0d0d","#f0f0f0","#dedede","#c9c9c9","#ffffff","#b6b6b6","#555555"]}}}},
{"view":{"fill":null,"stroke":null},"width":158,"height":258,"layer":[{"data":{"name":"legendBlocks"},"mark":{"type":"rect"},"encoding":{"x":{"datum":0,"type":"quantitative","scale":{"domain":[0,158]},"axis":null},"x2":{"datum":15},"y":{"field":"slot","type":"quantitative","scale":{"domain":[-0.91,19],"reverse":true,"nice":false,"zero":false},"axis":null},"y2":{"field":"end"},"color":{"field":"tone","type":"nominal","legend":null,"scale":{"domain":["t1","t2","t3","t4","t5","t6","t7","t8","t9"],"range":["#9e9e9e","#555555","#b5b5b5","#c8c8c8","#dedede","#f0f0f0","#8f8f8f","#141414","#050505"]}}}},{"data":{"values":[{"slot":1,"label":"23.60"},{"slot":2,"label":"23.05"},{"slot":3,"label":"22.50"},{"slot":4,"label":"21.50"},{"slot":5,"label":"20.40"},{"slot":6,"label":"18.91"},{"slot":7,"label":"16.38"},{"slot":8,"label":"12.84"},{"slot":9,"label":"11.30"}]},"mark":{"type":"text","align":"left","font":"Liberation Sans","fontSize":6,"color":"#333333"},"encoding":{"x":{"datum":18,"type":"quantitative"},"y":{"field":"slot","type":"quantitative"},"text":{"field":"label"}}}]},
{"title":{"text":"г","orient":"bottom","anchor":"middle","dx":-14,"offset":9},"width":313,"height":258,"data":{"name":"d"},"mark":{"type":"area","stroke":"#484848","strokeWidth":0.8},"encoding":{"x":{"field":"x","type":"quantitative","scale":{"domain":[-0.015,0.013],"nice":false,"zero":false},"axis":{"title":"Qₓ, 1/ангстрем","titleX":152,"titleY":40,"labelOffset":-5,"tickSize":{"condition":{"test":"abs(round(datum.value*10000)%50)<1","value":4},"value":3},"values":[-0.015,-0.0125,-0.01,-0.0075,-0.005,-0.0025,0,0.0025,0.005,0.0075,0.01,0.0125],"labelExpr":"abs(round(datum.value*10000)%50)<1 && abs(datum.value)<0.012 ? replace(replace(format(datum.value,'.3f'),'.',','),'-','−') : ''"}},"y":{"field":"hi","type":"quantitative","scale":{"domain":[-0.012,0.012],"nice":false,"zero":false},"axis":{"title":"Qᴢ, 1/ангстрем","titleX":-75,"titleY":148,"labelPadding":4,"tickSize":{"condition":{"test":"abs(round(datum.value*10000)%50)<1","value":4},"value":3},"values":[-0.01,-0.0075,-0.005,-0.0025,0,0.0025,0.005,0.0075,0.01],"labelExpr":"abs(round(datum.value*10000)%50)<1 ? replace(replace(format(datum.value,'.3f'),'.',','),'-','−') : ''"}},"y2":{"field":"lo"},"detail":{"field":"r"},"color":{"field":"z","type":"ordinal","legend":null,"scale":{"domain":[1,2,3,4,5,6,7],"range":["#0d0d0d","#f0f0f0","#dedede","#c9c9c9","#ffffff","#b6b6b6","#555555"]}}}},
{"view":{"fill":null,"stroke":null},"width":32,"height":258,"layer":[{"data":{"name":"legendBlocks"},"mark":{"type":"rect"},"encoding":{"x":{"datum":0,"type":"quantitative","scale":{"domain":[0,32]},"axis":null},"x2":{"datum":15},"y":{"field":"slot","type":"quantitative","scale":{"domain":[-0.91,19],"reverse":true,"nice":false,"zero":false},"axis":null},"y2":{"field":"end"},"color":{"field":"tone","type":"nominal","legend":null,"scale":{"domain":["t1","t2","t3","t4","t5","t6","t7","t8","t9"],"range":["#9e9e9e","#555555","#b5b5b5","#c8c8c8","#dedede","#f0f0f0","#8f8f8f","#141414","#050505"]}}}},{"data":{"values":[{"slot":1,"label":"24.19"},{"slot":2,"label":"23.10"},{"slot":3,"label":"22.00"},{"slot":4,"label":"20.80"},{"slot":5,"label":"19.00"},{"slot":6,"label":"17.74"},{"slot":7,"label":"16.06"},{"slot":8,"label":"12.38"},{"slot":9,"label":"10.70"}]},"mark":{"type":"text","align":"left","font":"Liberation Sans","fontSize":6,"color":"#333333"},"encoding":{"x":{"datum":18,"type":"quantitative"},"y":{"field":"slot","type":"quantitative"},"text":{"field":"label"}}}]}
],"columns":4,"bounds":"flush","spacing":{"row":87,"column":7},"resolve":{"scale":{"color":"independent","x":"independent","y":"independent"}}}
